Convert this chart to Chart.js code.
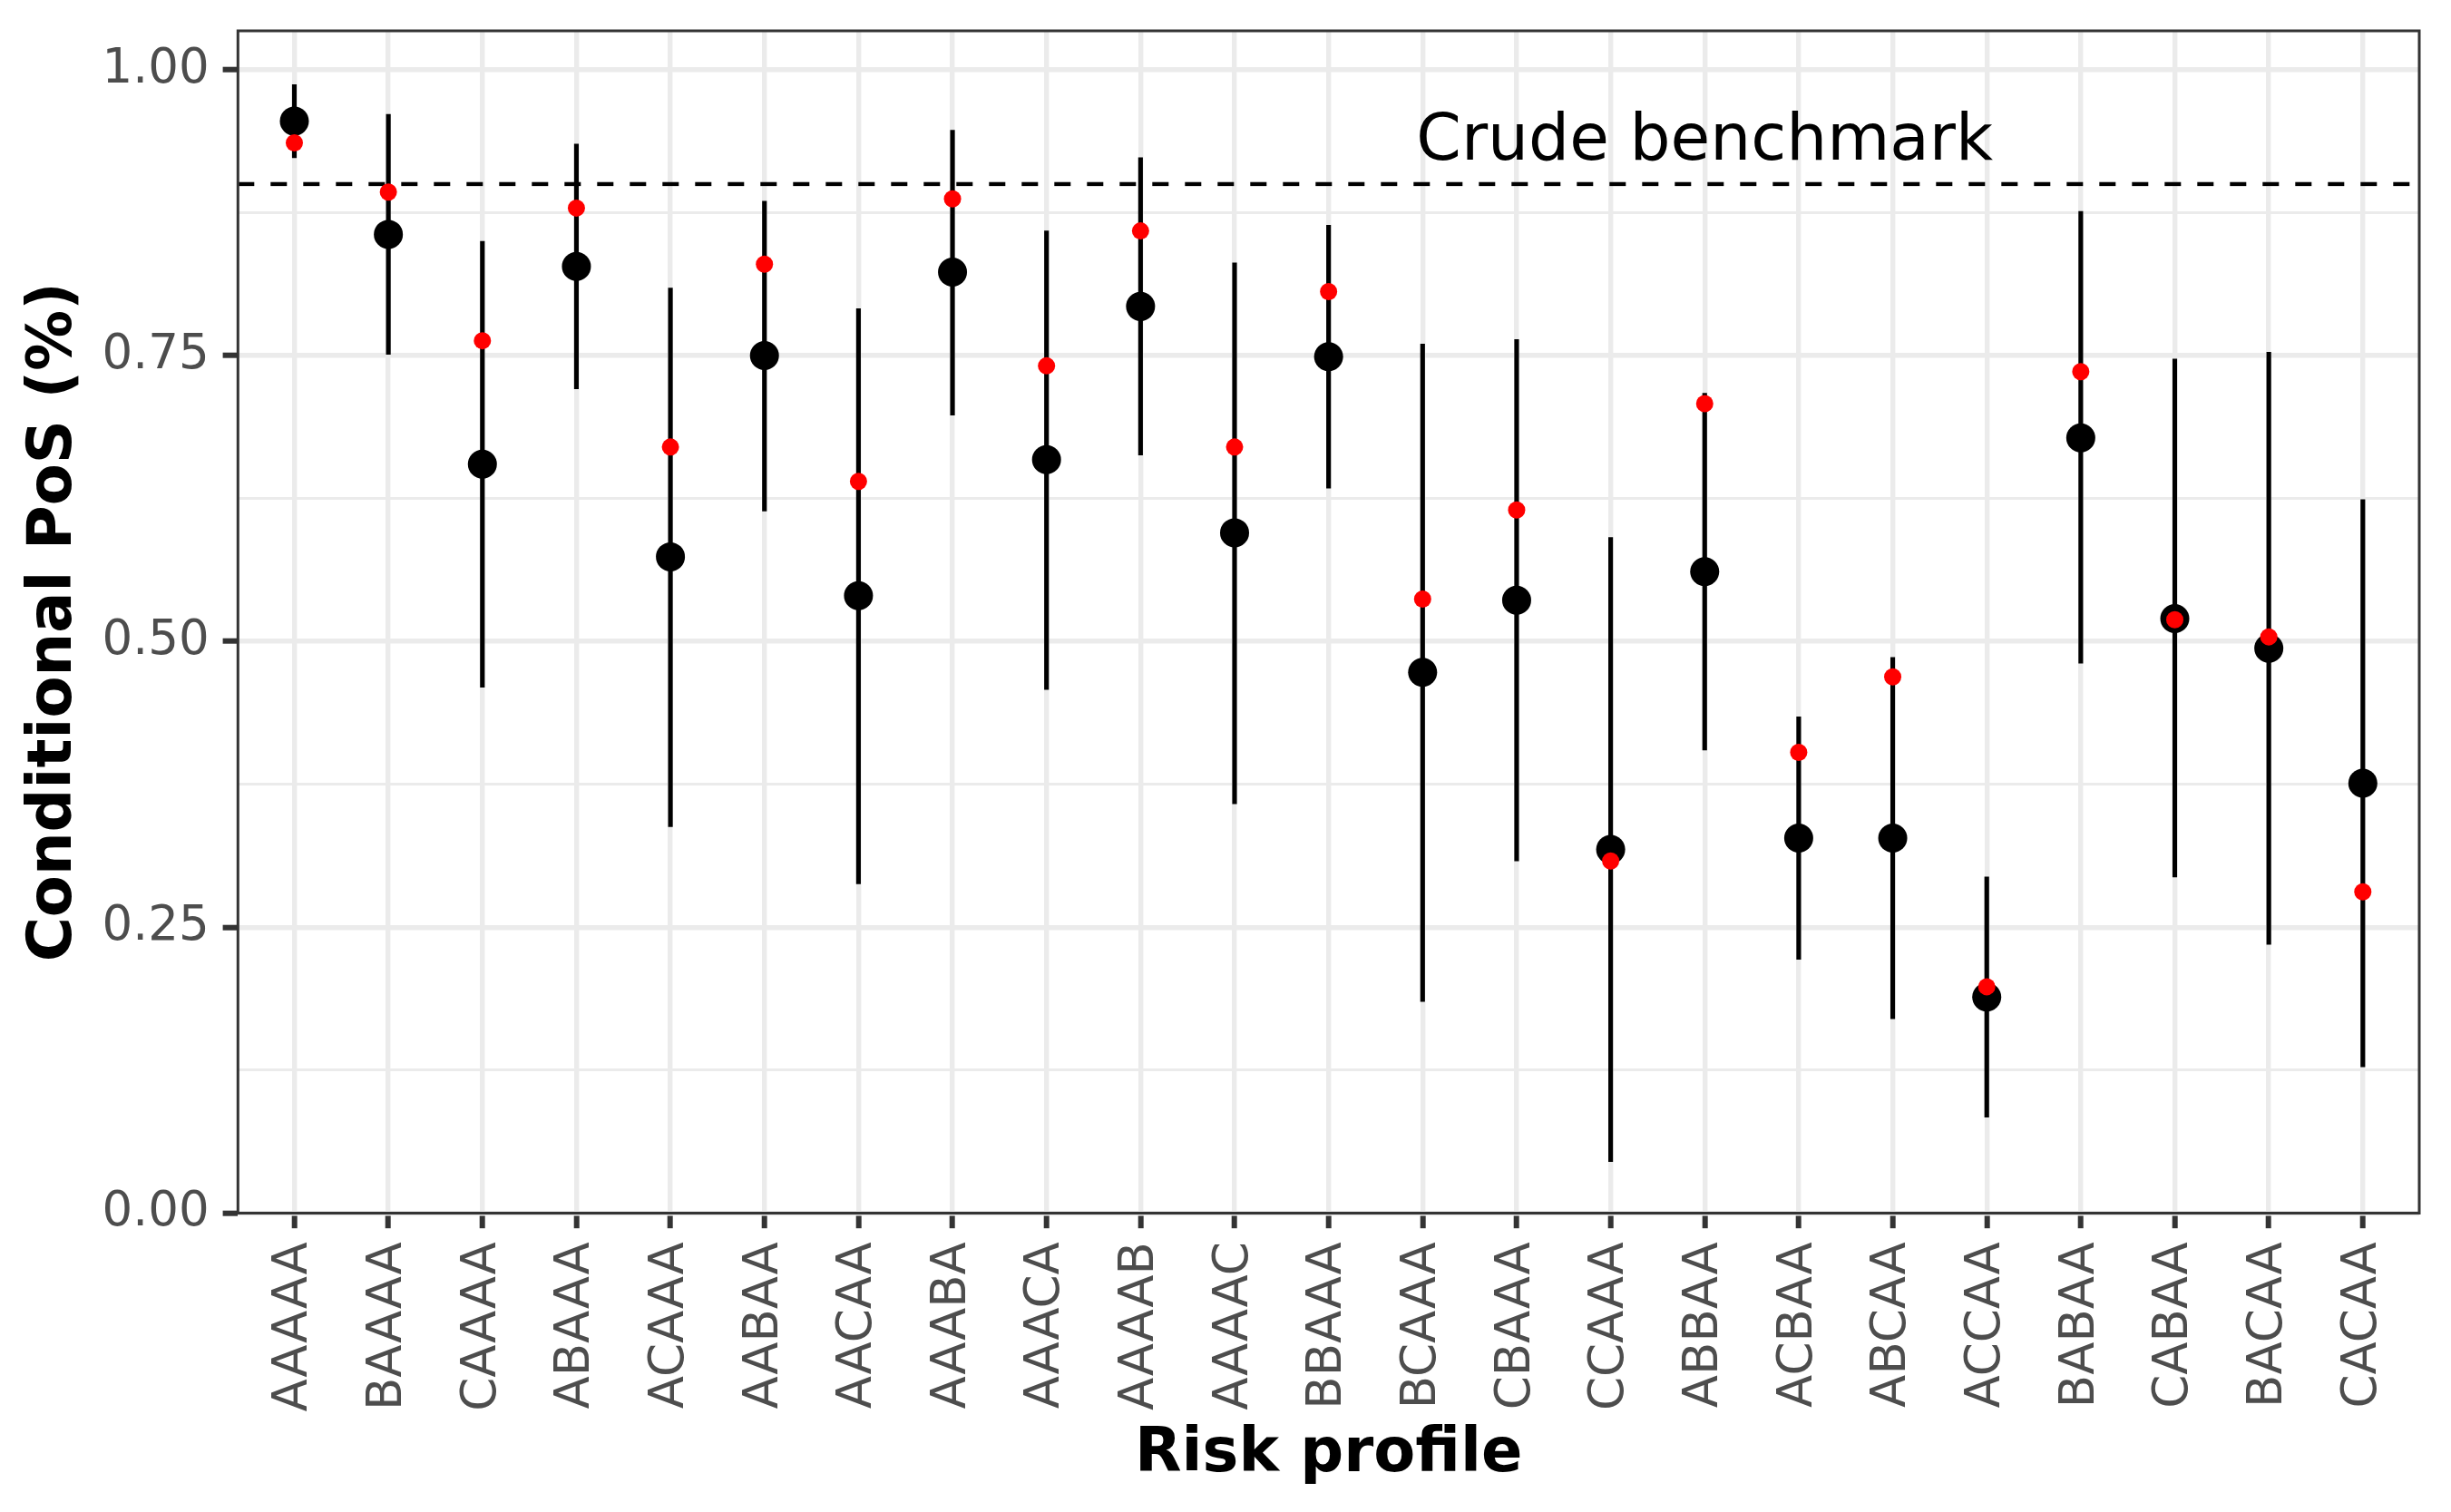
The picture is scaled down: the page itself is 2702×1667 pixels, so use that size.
<!DOCTYPE html>
<html>
<head>
<meta charset="utf-8">
<script src="https://cdn.jsdelivr.net/npm/chart.js@4.4.1/dist/chart.umd.min.js"></script>
<style>
  html, body { margin: 0; padding: 0; background: #ffffff; }
  canvas { display: block; }
</style>
</head>
<body>
<canvas id="c" width="2702" height="1667" style="width:2702px;height:1667px"></canvas>
<script>
// ---------------- data ----------------
const categories = ['AAAAA','BAAAA','CAAAA','ABAAA','ACAAA','AABAA','AACAA','AAABA','AAACA','AAAAB','AAAAC','BBAAA','BCAAA','CBAAA','CCAAA','ABBAA','ACBAA','ABCAA','ACCAA','BABAA','CABAA','BACAA','CACAA'];
const posEstimate = [0.955,0.856,0.655,0.828,0.574,0.750,0.540,0.823,0.659,0.793,0.595,0.749,0.473,0.536,0.318,0.561,0.328,0.328,0.189,0.678,0.520,0.494,0.376];
const ciLower     = [0.923,0.751,0.460,0.721,0.338,0.614,0.288,0.698,0.458,0.663,0.358,0.634,0.185,0.308,0.045,0.405,0.222,0.170,0.084,0.481,0.294,0.235,0.128];
const ciUpper     = [0.987,0.961,0.850,0.935,0.809,0.885,0.791,0.947,0.859,0.923,0.831,0.864,0.760,0.764,0.591,0.717,0.434,0.486,0.294,0.876,0.747,0.753,0.624];
const crudePos    = [0.936,0.893,0.763,0.879,0.670,0.830,0.640,0.887,0.741,0.859,0.670,0.806,0.537,0.615,0.308,0.708,0.403,0.469,0.198,0.736,0.519,0.504,0.281];
const benchmark = 0.9;
const benchmarkLabel = 'Crude benchmark';
const yMajorTicks = [0, 0.25, 0.5, 0.75, 1];
const yMinorTicks = [0.125, 0.375, 0.625, 0.875];
const xTitle = 'Risk profile';
const yTitle = 'Conditional PoS (%)';

// ---------------- style / layout ----------------
const FONT = 'DejaVu Sans';
Chart.defaults.font.family = FONT;
const ANNOT_X = 15;       // category index where the label is centred
const ANNOT_Y = 0.936;    // value where the label is centred
const isMajor = v => yMajorTicks.some(t => Math.abs(t - v) < 1e-9);

const benchmarkPlugin = {
  id: 'benchmarkLine',
  beforeDatasetsDraw(chart) {
    const { ctx, chartArea: a, scales: { y } } = chart;
    const py = y.getPixelForValue(benchmark);
    ctx.save();
    ctx.strokeStyle = '#000000';
    ctx.lineWidth = 4.4;
    ctx.setLineDash([18, 18]);
    ctx.beginPath();
    ctx.moveTo(a.left, py);
    ctx.lineTo(a.right, py);
    ctx.stroke();
    ctx.restore();
  }
};

const annotationPlugin = {
  id: 'annotation',
  afterDatasetsDraw(chart) {
    const { ctx, scales: { x, y } } = chart;
    ctx.save();
    ctx.font = '71px "' + FONT + '"';
    ctx.fillStyle = '#000000';
    ctx.textAlign = 'center';
    ctx.textBaseline = 'middle';
    ctx.fillText(benchmarkLabel, x.getPixelForValue(ANNOT_X), y.getPixelForValue(ANNOT_Y));
    ctx.restore();
  }
};

const panelBorderPlugin = {
  id: 'panelBorder',
  afterDatasetsDraw(chart) {
    const { ctx, chartArea: a } = chart;
    ctx.save();
    ctx.strokeStyle = '#333333';
    ctx.lineWidth = 3;
    ctx.strokeRect(a.left, a.top, a.right - a.left, a.bottom - a.top);
    ctx.restore();
  }
};

new Chart(document.getElementById('c'), {
  type: 'scatter',
  data: {
    datasets: [
      {
        type: 'scatter', label: 'Crude',
        data: crudePos.map((v, i) => ({ x: i, y: v })),
        pointRadius: 9.5, pointBackgroundColor: '#FF0000', pointBorderWidth: 0,
        pointHoverRadius: 9.5, order: 0
      },
      {
        type: 'scatter', label: 'Estimate',
        data: posEstimate.map((v, i) => ({ x: i, y: v })),
        pointRadius: 16, pointBackgroundColor: '#000000', pointBorderWidth: 0,
        pointHoverRadius: 16, order: 1
      },
      {
        type: 'bar', label: 'Interval',
        data: categories.map((c, i) => ({ x: i, y: [ciLower[i], ciUpper[i]] })),
        backgroundColor: '#000000', borderWidth: 0, barThickness: 4.5, order: 2
      }
    ]
  },
  options: {
    responsive: false,
    devicePixelRatio: 1,
    animation: false,
    events: [],
    layout: { padding: { left: 0, top: 34, right: 35, bottom: 0 } },
    plugins: { legend: { display: false }, tooltip: { enabled: false } },
    scales: {
      x: {
        type: 'linear', min: -0.6, max: 22.6, offset: false, bounds: 'data',
        afterBuildTicks: s => { s.ticks = categories.map((c, i) => ({ value: i })); },
        afterFit: s => { s.height = 329.5; s.paddingLeft = 0; s.paddingRight = 0; },
        grid: {
          color: '#EBEBEB', lineWidth: 5.4, offset: false,
          drawTicks: true, tickLength: 16.7, tickWidth: 6, tickColor: '#333333'
        },
        border: { display: false },
        ticks: {
          autoSkip: false, maxRotation: 90, minRotation: 90, padding: 15,
          color: '#4D4D4D', font: { size: 53 },
          callback: v => (categories[v] !== undefined ? categories[v] : '')
        },
        title: {
          display: true, text: xTitle, color: '#000000',
          font: { size: 67, weight: 'bold' }, padding: { top: 0, bottom: 22 }
        }
      },
      y: {
        type: 'linear', min: 0, max: 1.034, bounds: 'data',
        afterBuildTicks: s => {
          s.ticks = [...yMajorTicks, ...yMinorTicks].sort((a, b) => a - b).map(v => ({ value: v }));
        },
        afterFit: s => { s.width = 262.3; s.paddingTop = 0; s.paddingBottom = 0; },
        grid: {
          color: '#EBEBEB',
          lineWidth: c => (c.tick && !isMajor(c.tick.value) ? 3 : 5.4),
          drawTicks: true, tickLength: 16.7, tickWidth: 6,
          tickColor: c => (c.tick && !isMajor(c.tick.value) ? 'rgba(0,0,0,0)' : '#333333')
        },
        border: { display: false },
        ticks: {
          padding: 15, color: '#4D4D4D', font: { size: 53 },
          callback: v => (isMajor(v) ? v.toFixed(2) : '')
        },
        title: {
          display: true, text: yTitle, color: '#000000',
          font: { size: 67, weight: 'bold' }, padding: { top: 20, bottom: 0 }
        }
      }
    }
  },
  plugins: [benchmarkPlugin, annotationPlugin, panelBorderPlugin]
});
</script>
</body>
</html>
